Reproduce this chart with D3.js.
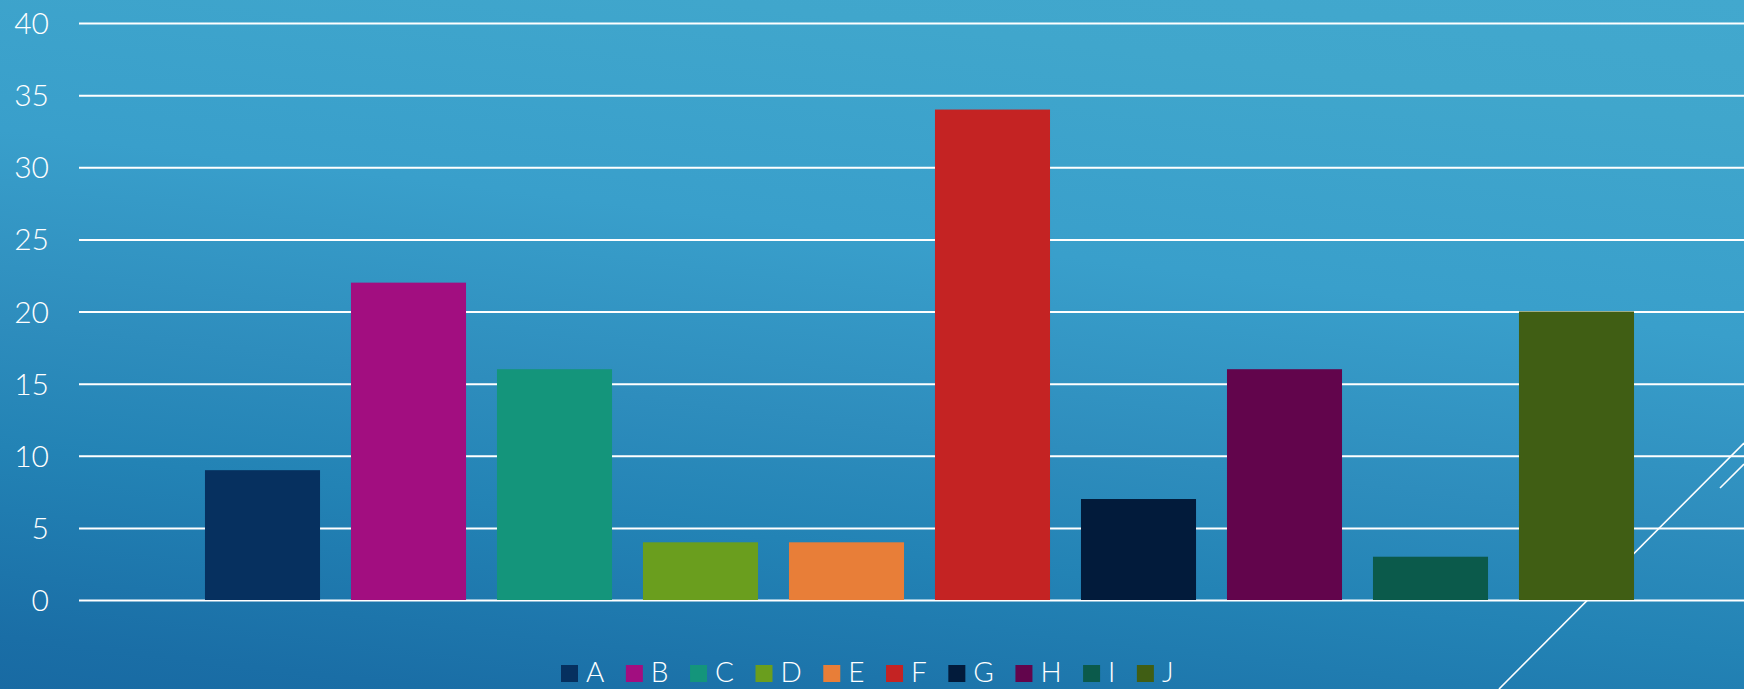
<!DOCTYPE html>
<html>
<head>
<meta charset="utf-8">
<script src="https://cdn.jsdelivr.net/npm/d3@7"></script>
<style>
  html, body { margin: 0; padding: 0; overflow: hidden; background: #2a86b5; }
  svg { display: block; }
  text { font-family: "Lato", "Open Sans", "DejaVu Sans", sans-serif; font-weight: 300; fill: #ffffff; }
</style>
</head>
<body>
<svg id="chart" width="1744" height="689"></svg>
<script>
const categories = ["A", "B", "C", "D", "E", "F", "G", "H", "I", "J"];
const values = [9, 22, 16, 4, 4, 34, 7, 16, 3, 20];
const colors = ["#06305f", "#a20e80", "#14957b", "#6a9e1e", "#e87e38", "#c42323", "#021b3b", "#62054c", "#0b5a4b", "#405e14"];
const yTicks = [0, 5, 10, 15, 20, 25, 30, 35, 40];

const W = 1744, H = 689;
const svg = d3.select("#chart");

// background gradient (light top-right to dark bottom-left)
const defs = svg.append("defs");
const grad = defs.append("linearGradient")
  .attr("id", "bg").attr("gradientUnits", "userSpaceOnUse")
  .attr("x1", 1744).attr("y1", 0).attr("x2", 1638).attr("y2", 886);
[[0, "#42a8ce"], [0.138, "#40a6cc"], [0.376, "#399fcb"], [0.588, "#2e8dbd"],
 [0.728, "#2383b5"], [0.94, "#1a6ea6"], [1, "#186aa3"]].forEach(s => {
  grad.append("stop").attr("offset", s[0]).attr("stop-color", s[1]);
});
svg.append("rect").attr("width", W).attr("height", H).attr("fill", "url(#bg)");

// scales
const y = d3.scaleLinear().domain([0, 40]).range([600, 23]);
const x = d3.scaleBand().domain(categories).range([189.5, 1649.5])
  .paddingInner(0.212).paddingOuter(0.106);

// decorative diagonal lines
const deco = svg.append("g").attr("stroke", "#ffffff").attr("stroke-width", 1.6).attr("fill", "none");
deco.append("line").attr("x1", 1499).attr("y1", 689).attr("x2", 1744).attr("y2", 443);
deco.append("line").attr("x1", 1720).attr("y1", 488).attr("x2", 1744).attr("y2", 464);

// gridlines via axis
const gridAxis = d3.axisLeft(y).tickValues(yTicks).tickSize(-(W - 79)).tickFormat("");
const grid = svg.append("g").attr("transform", "translate(79,0)").call(gridAxis);
grid.select(".domain").remove();
grid.selectAll(".tick line").attr("stroke", "#ffffff").attr("stroke-width", 2);

// y labels
const labelAxis = d3.axisLeft(y).tickValues(yTicks).tickSize(0).tickPadding(0).tickFormat(d3.format("d"));
const lab = svg.append("g").attr("transform", "translate(49,0)").call(labelAxis);
lab.select(".domain").remove();
lab.selectAll(".tick text")
  .attr("fill", "#ffffff")
  .style("font-family", '"Lato", "Open Sans", "DejaVu Sans", sans-serif')
  .style("font-weight", 300)
  .style("font-size", "30px")
  .attr("dy", "0.35em");

// bars
svg.append("g").selectAll("rect").data(categories).join("rect")
  .attr("x", d => x(d))
  .attr("y", (d, i) => y(values[i]))
  .attr("width", x.bandwidth())
  .attr("height", (d, i) => y(0) - y(values[i]))
  .attr("fill", (d, i) => colors[i]);

// legend
const legend = svg.append("g");
let cx = 561;
categories.forEach((c, i) => {
  const g = legend.append("g");
  g.append("rect").attr("x", cx).attr("y", 665).attr("width", 17).attr("height", 17).attr("fill", colors[i]);
  const t = g.append("text").attr("x", cx + 25).attr("y", 682)
    .style("font-size", "28px").text(c);
  const w = t.node().getComputedTextLength();
  cx = cx + 25 + w + 21.5;
});
</script>
</body>
</html>
